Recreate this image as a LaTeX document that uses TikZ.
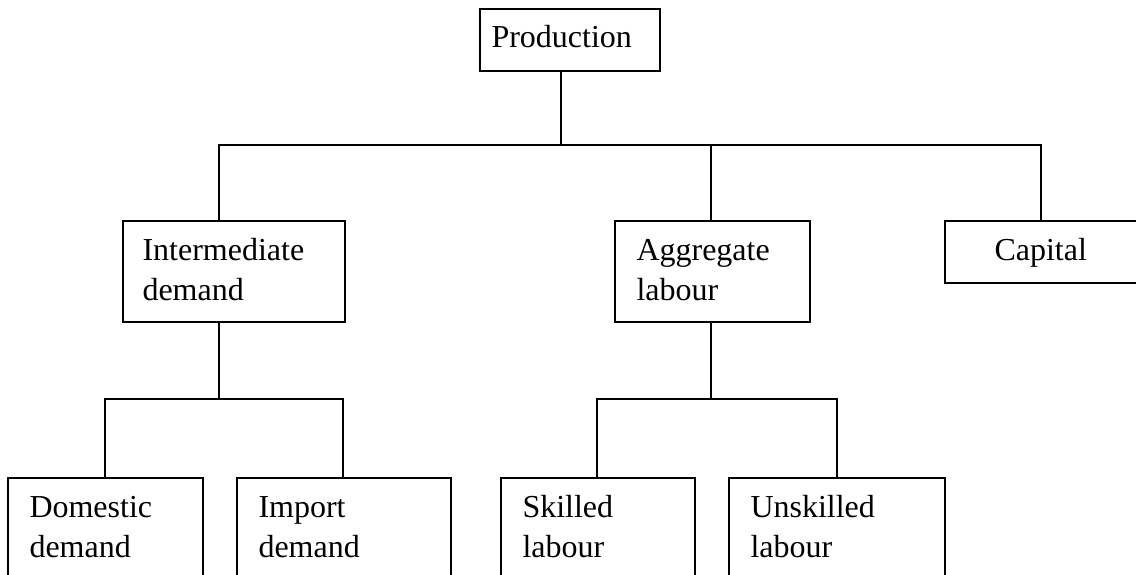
\documentclass[tikz,border=0pt]{standalone}
\usepackage{fontspec}
\setmainfont{Liberation Serif}
\usetikzlibrary{fit}

\begin{document}
\begin{tikzpicture}[x=0.5pt,y=-0.5pt]
\tikzset{
  treebox/.style={draw=black,line width=0.9pt,inner sep=0pt},
  boxtext/.style={anchor=north west,inner sep=0pt,align=left,font=\fontsize{16}{20}\selectfont},
  treeline/.style={draw=black,line width=0.9pt,line cap=rect}
}
\useasboundingbox (0,0) rectangle (1136,574);
\clip (0,0) rectangle (1136,574);
% boxes
\node[treebox,fit={(480,9) (660,71)}] (prod) {};
\node[treebox,fit={(123,221) (345,322)}] (inter) {};
\node[treebox,fit={(615,221) (810,322)}] (aggr) {};
\node[treebox,fit={(945,221) (1137,283)}] (cap) {};
\node[treebox,fit={(8,478) (203,600)}] (dom) {};
\node[treebox,fit={(237,478) (451,600)}] (imp) {};
\node[treebox,fit={(501,478) (695,600)}] (skill) {};
\node[treebox,fit={(729,478) (945,600)}] (unskill) {};
% texts
\node[boxtext] (prod lbl) at ([shift={(12,11)}]prod.north west) {\strut Production};
\node[boxtext] (inter lbl) at ([shift={(20,12)}]inter.north west) {\strut Intermediate\\demand};
\node[boxtext] (aggr lbl) at ([shift={(22,12)}]aggr.north west) {\strut Aggregate\\labour};
\node[boxtext] (cap lbl) at ([shift={(50,12)}]cap.north west) {\strut Capital};
\node[boxtext] (dom lbl) at ([shift={(22,12)}]dom.north west) {\strut Domestic\\demand};
\node[boxtext] (imp lbl) at ([shift={(22,12)}]imp.north west) {\strut Import\\demand};
\node[boxtext] (skill lbl) at ([shift={(22,12)}]skill.north west) {\strut Skilled\\labour};
\node[boxtext] (unskill lbl) at ([shift={(22,12)}]unskill.north west) {\strut Unskilled\\labour};
% upper level
\coordinate (prod stem) at (561,145);
\coordinate (inter drop) at (219,145);
\coordinate (aggr drop) at (711,145);
\coordinate (cap drop) at (1041,145);
\draw[treeline] (prod stem |- prod.south) -- (prod stem);
\draw[treeline] (inter drop) -- (cap drop);
\draw[treeline] (inter drop) -- (inter drop |- inter.north);
\draw[treeline] (aggr drop) -- (aggr drop |- aggr.north);
\draw[treeline] (cap drop) -- (cap drop |- cap.north);
% lower level
\coordinate (inter stem) at (219,399);
\coordinate (dom drop) at (105,399);
\coordinate (imp drop) at (343,399);
\draw[treeline] (inter stem |- inter.south) -- (inter stem);
\draw[treeline] (dom drop) -- (imp drop);
\draw[treeline] (dom drop) -- (dom drop |- dom.north);
\draw[treeline] (imp drop) -- (imp drop |- imp.north);
\coordinate (aggr stem) at (711,399);
\coordinate (skill drop) at (597,399);
\coordinate (unskill drop) at (837,399);
\draw[treeline] (aggr stem |- aggr.south) -- (aggr stem);
\draw[treeline] (skill drop) -- (unskill drop);
\draw[treeline] (skill drop) -- (skill drop |- skill.north);
\draw[treeline] (unskill drop) -- (unskill drop |- unskill.north);
\end{tikzpicture}
\end{document}
